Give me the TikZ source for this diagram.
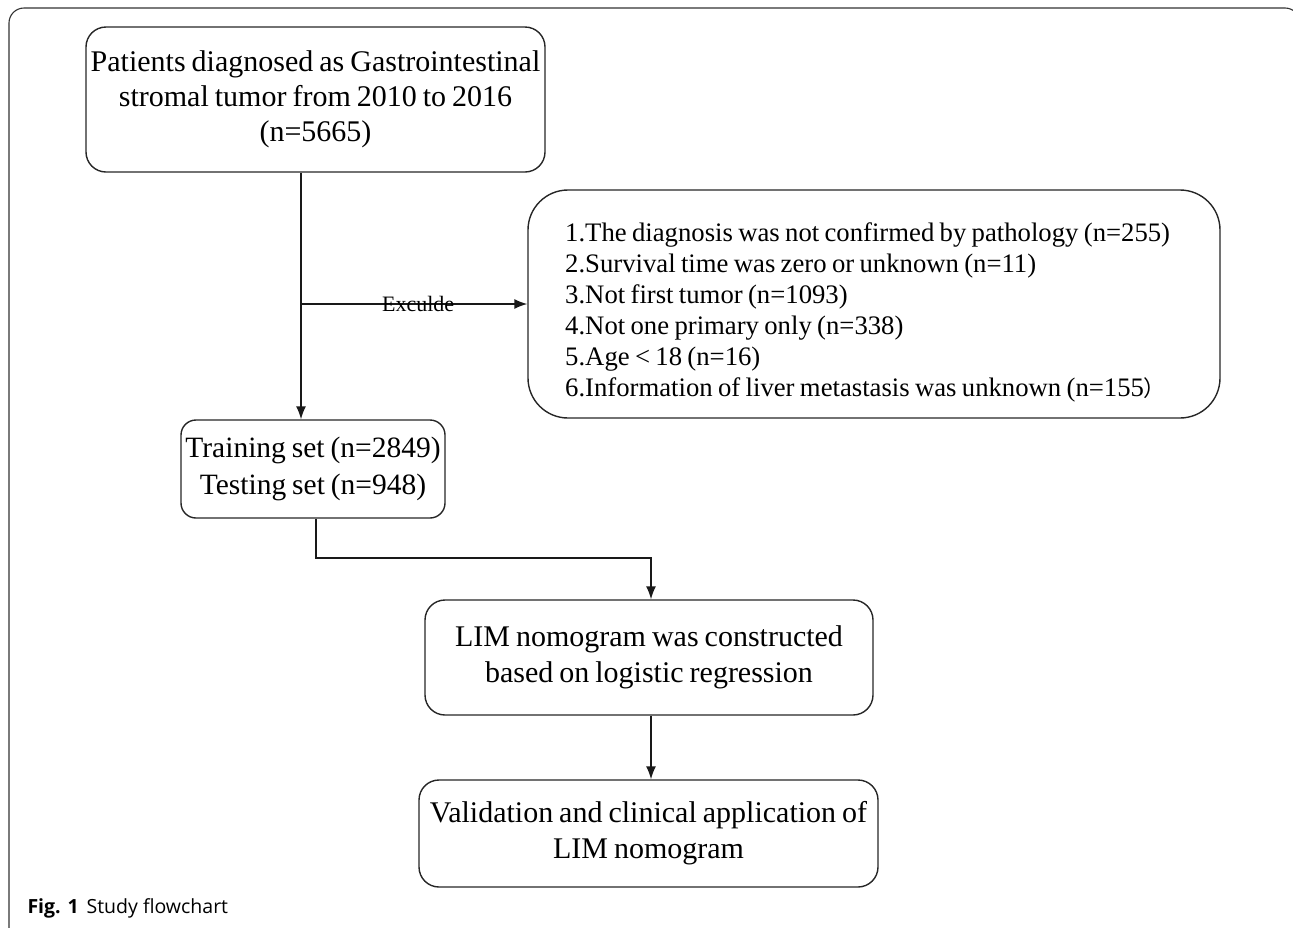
\documentclass[tikz,border=0pt]{standalone}
\usepackage{fontspec}
\setmainfont[WordSpace=0.8]{Liberation Serif}
\newfontfamily\capfont{Open Sans}
\newfontfamily\cjkf{Noto Sans CJK SC}
\usetikzlibrary{arrows.meta,positioning,calc}
\tikzset{
  box/.style={draw=black!85, line width=1.4pt, rounded corners=#1, align=center, inner sep=0pt},
  box/.default=20pt,
  arr/.style={draw=black!90, line width=1.4pt, -{Latex[length=13pt,width=10pt]}},
}
\begin{document}
\begin{tikzpicture}[x=1pt,y=-1pt]
\useasboundingbox (0,0) rectangle (1293,927);
\clip (0,0) rectangle (1293,927);
% outer frame (cropped)
\draw[black!80, line width=1.1pt, rounded corners=15pt] (9,960) -- (9,8) -- (1300,8) -- (1300,960);
% nodes
\node[box, minimum width=459pt, minimum height=145pt, font=\fontsize{30}{35}\selectfont] (b1) at (315.5,99.5)
  {Patients diagnosed as Gastrointestinal\\stromal tumor from 2010 to 2016\\(n=5665)};
\node[box=40pt, minimum width=692pt, minimum height=228pt] (ex) at (874,304) {};
\node[anchor=west, inner sep=0pt, align=left, font=\fontsize{26.7}{31}\selectfont] (extxt) at (565,312)
  {1.The diagnosis was not confirmed by pathology (n=255)\\
   2.Survival time was zero or unknown (n=11)\\
   3.Not first tumor (n=1093)\\
   4.Not one primary only (n=338)\\
   5.Age < 18 (n=16)\\
   6.Information of liver metastasis was unknown (n=155{\cjkf\fontsize{22}{31}\selectfont ）}};
\node[box=15pt, minimum width=264pt, minimum height=98pt, font=\fontsize{29.5}{37}\selectfont] (b2) at (313,469)
  {Training set (n=2849)\\Testing set (n=948)};
\node[box, minimum width=448pt, minimum height=115pt, font=\fontsize{30}{36}\selectfont] (b3) at (649,657.5)
  {LIM nomogram was constructed\\based on logistic regression};
\node[box, minimum width=459pt, minimum height=107pt, font=\fontsize{30}{36}\selectfont] (b4) at (648.5,833.5)
  {Validation and clinical application of\\LIM nomogram};
\node[anchor=base west, font=\capfont\fontsize{19.5}{22}\selectfont] (cap) at (24,913)
  {\textbf{Fig. 1}\hspace{8pt}Study flowchart};
% connectors
\coordinate (vx) at (301,0);
\coordinate (tx) at (316,0);
\coordinate (ty) at (0,558);
\coordinate (ax) at (651,0);
\draw[arr] (vx |- b1.south) -- (vx |- b2.north);
\draw[arr] (vx |- ex.west) -- node[font=\fontsize{22}{26}\selectfont, inner sep=0pt, xshift=4pt] (exl) {Exculde} (ex.west);
\draw[arr] (tx |- b2.south) -- (tx |- ty) -- (ax |- ty) -- (ax |- b3.north);
\draw[arr] (ax |- b3.south) -- (ax |- b4.north);
\end{tikzpicture}
\end{document}
